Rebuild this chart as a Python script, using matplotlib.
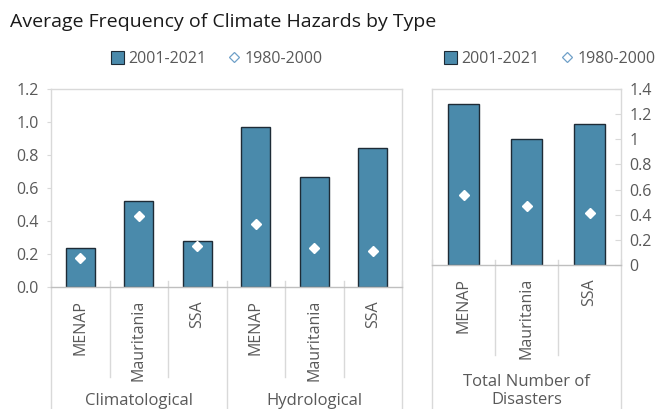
import matplotlib.pyplot as plt
from matplotlib.patches import Patch
from matplotlib.lines import Line2D
import numpy as np

plt.rcParams['font.family'] = ['Open Sans', 'DejaVu Sans']

regions = ["MENAP", "Mauritania", "SSA"]
groups = ["Climatological", "Hydrological"]
recent_hazard = [0.234, 0.521, 0.277, 0.970, 0.669, 0.840]
early_hazard = [0.178, 0.430, 0.250, 0.382, 0.238, 0.220]
total_label = "Total Number of\nDisasters"
recent_total = [1.283, 1.003, 1.123]
early_total = [0.56, 0.472, 0.411]

bar_col = "#4A8AAB"
edge_col = "#1E2B36"
grid_col = "#D9D9D9"
txt_col = "#595959"

W, H = 659, 409
fig = plt.figure(figsize=(W / 100, H / 100), dpi=100)

def px_axes(x0, x1, ytop, ybot):
    return fig.add_axes([x0 / W, (H - ybot) / H, (x1 - x0) / W, (ybot - ytop) / H])

def sep(ax, x, ybottom):
    ax.plot([x, x], [0.03, ybottom], color=grid_col, lw=1,
            transform=ax.get_xaxis_transform(), clip_on=False)

def style(ax):
    for s in ax.spines.values():
        s.set_color(grid_col)
        s.set_linewidth(1)
    ax.tick_params(axis='x', length=0, labelbottom=False)
    ax.tick_params(axis='y', colors=txt_col, labelsize=11.5, length=3,
                   color=grid_col)

# left panel: hazard types by region
ax1 = px_axes(51, 402, 89, 287)
x1 = np.arange(len(recent_hazard))
ax1.bar(x1, recent_hazard, width=0.5, color=bar_col, edgecolor=edge_col, linewidth=1, zorder=2)
ax1.plot(x1, early_hazard, 'D', color='white', markersize=5, zorder=3)
ax1.set_xlim(-0.5, len(recent_hazard) - 0.5)
ax1.set_ylim(0, 1.2)
ax1.set_yticks(np.arange(0, 1.21, 0.2))
ax1.set_yticklabels([f"{v:.1f}" for v in np.arange(0, 1.21, 0.2)])
style(ax1)
ax1.tick_params(axis='y', pad=6)
ax1.spines['bottom'].set_color("#BFBFBF")
bot1 = (287 - 409) / 198
for i in range(len(recent_hazard)):
    ax1.text(i, -13 / 198, regions[i % 3], rotation=90, ha='center', va='top',
             color=txt_col, fontsize=11.5, transform=ax1.get_xaxis_transform())
    if i % 3 != 2:
        sep(ax1, i + 0.5, -90 / 198)
for g, name in enumerate(groups):
    ax1.text(g * 3 + 1, -114 / 198, name, ha='center', va='center',
             color=txt_col, fontsize=12, transform=ax1.get_xaxis_transform())
for xs in [-0.5, 2.5, 5.5]:
    sep(ax1, xs, bot1)

# right panel: total number of disasters
ax2 = px_axes(432, 621, 89, 265)
x2 = np.arange(len(recent_total))
ax2.bar(x2, recent_total, width=0.5, color=bar_col, edgecolor=edge_col, linewidth=1, zorder=2)
ax2.plot(x2, early_total, 'D', color='white', markersize=5, zorder=3)
ax2.set_xlim(-0.5, 2.5)
ax2.set_ylim(0, 1.4)
ax2.set_yticks(np.arange(0, 1.41, 0.2))
ax2.set_yticklabels([f"{v:g}" for v in np.round(np.arange(0, 1.41, 0.2), 1)])
style(ax2)
ax2.yaxis.tick_right()
ax2.tick_params(axis='y', direction='in', length=4, pad=6)
ax2.spines['bottom'].set_color("#BFBFBF")
for i in range(len(recent_total)):
    ax2.text(i, -13 / 176, regions[i], rotation=90, ha='center', va='top',
             color=txt_col, fontsize=11.5, transform=ax2.get_xaxis_transform())
    if i < 2:
        sep(ax2, i + 0.5, -90 / 176)
ax2.text(1, -126 / 176, total_label, ha='center', va='center', linespacing=1.25,
         color=txt_col, fontsize=12, transform=ax2.get_xaxis_transform())
for xs in [-0.5, 2.5]:
    sep(ax2, xs, -144 / 176)

handles = [Patch(facecolor=bar_col, edgecolor=edge_col, linewidth=0.8),
           Line2D([], [], marker='D', ls='none', markersize=5,
                  markerfacecolor='white', markeredgecolor='#6FA0C8', markeredgewidth=0.9)]
for cx in [217 / W, 550 / W]:
    fig.legend(handles, ["2001-2021", "1980-2000"], loc='center', ncol=2,
               bbox_to_anchor=(cx, (H - 59) / H), frameon=False, fontsize=11.5,
               handlelength=0.8, handleheight=0.8, handletextpad=0.3, columnspacing=1.3,
               labelcolor=txt_col)

fig.text(10 / W, (H - 22) / H, "Average Frequency of Climate Hazards by Type",
         ha='left', va='center', fontsize=14, color="#1A1A1A")

fig.savefig("out.png", dpi=100)
